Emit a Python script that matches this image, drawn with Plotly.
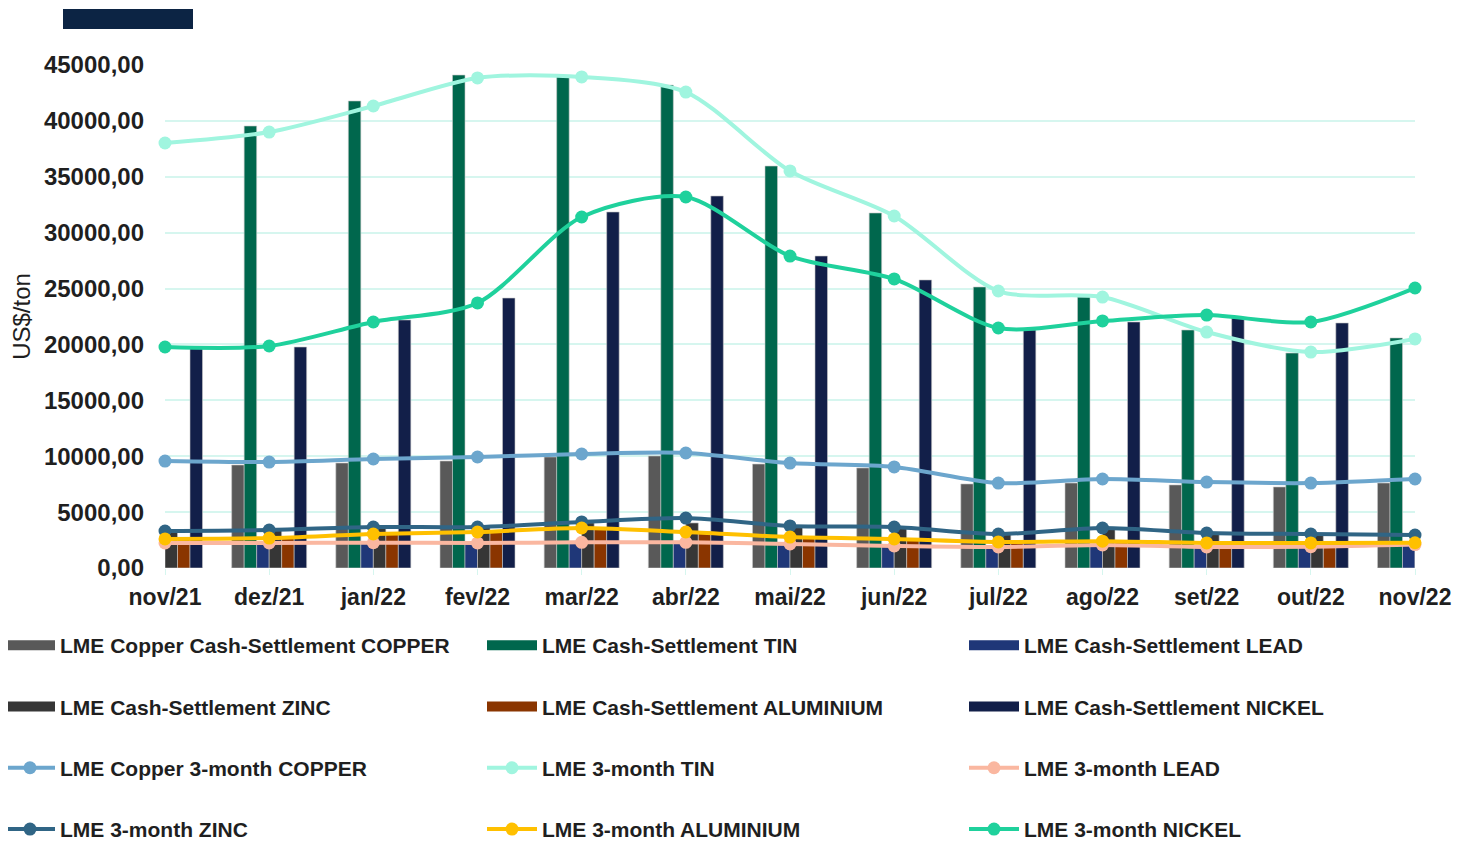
import plotly.graph_objects as go

# Months on the x axis
months = ["nov/21", "dez/21", "jan/22", "fev/22", "mar/22", "abr/22", "mai/22",
          "jun/22", "jul/22", "ago/22", "set/22", "out/22", "nov/22"]

# Cash-settlement prices (bars), US$/ton
cash_copper = [9750, 9215, 9390, 9570, 9930, 10020, 9300, 8950, 7520, 7600, 7430, 7250, 7600]
cash_tin = [37500, 39540, 41780, 44100, 44000, 43200, 35960, 31760, 25140, 24240, 21290, 19230, 20580]
cash_lead = [2300, 2300, 2330, 2300, 2400, 2400, 2250, 2100, 1950, 2100, 1950, 1950, 2150]
cash_zinc = [3300, 3400, 3650, 3650, 4050, 4030, 3670, 3580, 3000, 3550, 3100, 3000, 2950]
cash_aluminium = [2650, 2700, 3050, 3250, 3550, 3250, 2800, 2600, 2350, 2400, 2250, 2250, 2300]
cash_nickel = [19680, 19770, 22190, 24150, 31850, 33280, 27910, 25770, 21290, 22010, 22370, 21920, 25000]

# 3-month prices (lines), US$/ton
m3_copper = [9570, 9480, 9750, 9930, 10200, 10290, 9390, 9040, 7600, 7960, 7690, 7600, 7960]
m3_tin = [38020, 39000, 41330, 43840, 43930, 42580, 35520, 31490, 24780, 24240, 21110, 19320, 20490]
m3_lead = [2240, 2240, 2260, 2240, 2300, 2300, 2150, 1970, 1880, 2060, 1880, 1900, 2100]
m3_zinc = [3310, 3400, 3670, 3670, 4120, 4470, 3760, 3670, 3040, 3580, 3130, 3040, 2950]
m3_aluminium = [2600, 2680, 3040, 3220, 3580, 3220, 2770, 2600, 2330, 2400, 2240, 2240, 2260]
m3_nickel = [19770, 19860, 22010, 23710, 31400, 33190, 27910, 25860, 21470, 22100, 22630, 22010, 25050]

FONT = "Arial, Liberation Sans, sans-serif"
TEXT = "#1f1f1f"
GRID = "#d6f6ef"

bars = [
    ("LME Copper Cash-Settlement COPPER", cash_copper, "#595959"),
    ("LME Cash-Settlement TIN", cash_tin, "#00674D"),
    ("LME Cash-Settlement LEAD", cash_lead, "#1F3778"),
    ("LME Cash-Settlement ZINC", cash_zinc, "#363636"),
    ("LME Cash-Settlement ALUMINIUM", cash_aluminium, "#8A3500"),
    ("LME Cash-Settlement NICKEL", cash_nickel, "#121F49"),
]
lines = [
    ("LME Copper 3-month COPPER", m3_copper, "#6CA6CD"),
    ("LME 3-month TIN", m3_tin, "#A0F5DF"),
    ("LME 3-month LEAD", m3_lead, "#FAB7A0"),
    ("LME 3-month ZINC", m3_zinc, "#306585"),
    ("LME 3-month ALUMINIUM", m3_aluminium, "#FFC000"),
    ("LME 3-month NICKEL", m3_nickel, "#1FD19C"),
]

# legend columns: 3 columns, 4 rows, filled row by row
columns = ["legend", "legend2", "legend3"]

fig = go.Figure()

# bars (legend drawn with wide swatches below)
for name, vals, color in bars:
    fig.add_trace(go.Bar(
        x=months, y=vals, name=name, showlegend=False,
        marker=dict(color=color, line=dict(color="#c8c8c8", width=0.6)),
    ))

for i, (name, vals, color) in enumerate(bars):
    fig.add_trace(go.Scatter(
        x=[None], y=[None], mode="lines", name=name,
        line=dict(color=color, width=10), legend=columns[i % 3],
        legendgroup=name, legendrank=i,
    ))

for i, (name, vals, color) in enumerate(lines):
    fig.add_trace(go.Scatter(
        x=months, y=vals, name=name, mode="lines+markers",
        line=dict(color=color, width=4, shape="spline", smoothing=0.8),
        marker=dict(color=color, size=13),
        cliponaxis=False, legend=columns[i % 3],
        legendgroup=name, legendrank=i + 6,
    ))


# page pixel -> paper coordinates (plot area spans x 165..1415, y 65..568 on the page)
def px_x(px):
    return (px - 165) / 1250


def px_y(py):
    return (568 - py) / 503


leg_common = dict(orientation="v", xanchor="left", yanchor="top", y=px_y(625),
                  itemwidth=50, tracegroupgap=31,
                  font=dict(family=FONT, size=21, color=TEXT, weight="bold"),
                  bgcolor="rgba(0,0,0,0)", itemclick=False)

fig.update_layout(
    width=1461, height=837,
    margin=dict(l=157, r=54, t=57, b=277, autoexpand=False),
    paper_bgcolor="white", plot_bgcolor="white",
    separators=",.",
    barmode="group", bargap=0.28, bargroupgap=0,
    font=dict(family=FONT, color=TEXT),
    xaxis=dict(
        type="category", range=[0, 12], showgrid=False, zeroline=False,
        ticks="outside", ticklen=6, tickcolor=GRID, showline=False,
        tickfont=dict(family=FONT, size=23, color=TEXT, weight="bold"),
        ticklabelstandoff=2,
    ),
    yaxis=dict(
        range=[0, 45000], dtick=5000, tickformat=".2f",
        gridcolor=GRID, gridwidth=1.5, zeroline=False, showline=False,
        tickfont=dict(family=FONT, size=24, color=TEXT, weight="bold"),
        ticklabelstandoff=20,
        title=dict(text="US$/ton", font=dict(family=FONT, size=24, color=TEXT), standoff=10),
    ),
    legend=dict(leg_common, x=px_x(0)),
    legend2=dict(leg_common, x=px_x(482)),
    legend3=dict(leg_common, x=px_x(964)),
    shapes=[dict(type="rect", xref="paper", yref="paper",
                 x0=px_x(63), x1=px_x(193), y0=px_y(29), y1=px_y(9),
                 fillcolor="#0C2444", line=dict(width=0))],
    showlegend=True,
)

fig.write_html("out.html")
